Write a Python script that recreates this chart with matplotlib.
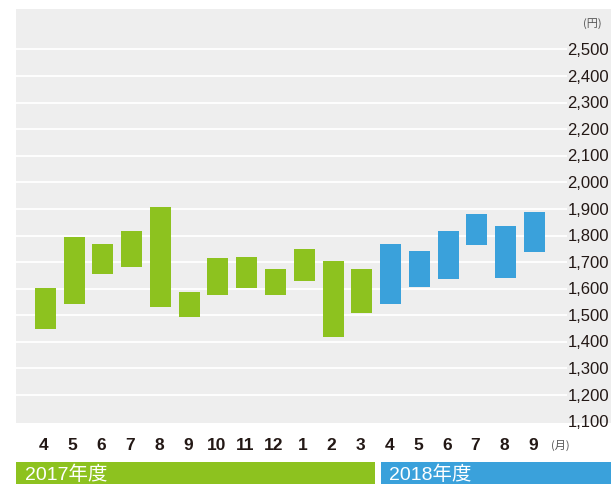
import matplotlib
matplotlib.use("Agg")
import matplotlib.pyplot as plt
import matplotlib.transforms as mtransforms
from matplotlib.patches import Rectangle

# monthly share price range (yen), high / low
months = ["4", "5", "6", "7", "8", "9", "10", "11", "12", "1", "2", "3",
          "4", "5", "6", "7", "8", "9"]
highs = [1601, 1794, 1770, 1817, 1906, 1586, 1714, 1718, 1676, 1748, 1706, 1674,
         1768, 1743, 1817, 1881, 1836, 1887]
lows = [1447, 1541, 1657, 1680, 1530, 1492, 1575, 1601, 1578, 1628, 1420, 1510,
        1541, 1605, 1636, 1763, 1640, 1738]
fiscal_year = ["2017年度"] * 12 + ["2018年度"] * 6
yticks = [1100, 1200, 1300, 1400, 1500, 1600, 1700, 1800, 1900, 2000,
          2100, 2200, 2300, 2400, 2500]

GREEN = "#8dc21f"
BLUE = "#3aa1db"
GRAY = "#eeeeee"
INK = "#231815"

W, H = 611, 484
fig = plt.figure(figsize=(W / 100, H / 100), dpi=100)
ax = fig.add_axes([16 / W, (H - 423) / H, (W - 16) / W, (423 - 9) / H])
ax.set_facecolor(GRAY)
for s in ax.spines.values():
    s.set_visible(False)

x = list(range(len(months)))
colors = [GREEN if fy == "2017年度" else BLUE for fy in fiscal_year]
heights = [h - l for h, l in zip(highs, lows)]

ax.set_xlim(-1.018, 19.66)
ax.set_ylim(1095, 2652)

# white gridlines, stopping short of the labels on the right
ax.hlines([t for t in yticks if t > 1100], 0, (567 - 16) / (W - 16),
          transform=ax.get_yaxis_transform(), colors="white", lw=1.3, zorder=1)
ax.bar(x, heights, bottom=lows, width=0.73, color=colors, zorder=2)

ax.set_xticks([])
ax.set_yticks([])

num_font = ["Liberation Sans", "DejaVu Sans"]
cjk_font = ["Liberation Sans", "Noto Sans CJK JP", "DejaVu Sans"]

# y labels drawn inside the plot on the right
ytr = mtransforms.blended_transform_factory(fig.transFigure, ax.transData)
for t in yticks:
    fig.text(609 / W, t - 4, f"{t:,}", transform=ytr, ha="right", va="center",
             fontsize=12, family=num_font, color=INK)
fig.text(592 / W, 1 - 24 / H, "(円)", ha="center", va="center",
         fontsize=8, family=["Noto Sans CJK JP"], color="#555555")

# month labels
xtr = mtransforms.blended_transform_factory(ax.transData, fig.transFigure)
for i, m in enumerate(months):
    fig.text(i - 0.05, 1 - 445.7 / H, m, transform=xtr, ha="center", va="center",
             fontsize=12.5, fontweight="bold", family=num_font, color=INK)
fig.text(560 / W, 1 - 445 / H, "(月)", ha="center", va="center",
         fontsize=8, family=["Noto Sans CJK JP"], color="#555555")

# fiscal year bands
fig.add_artist(Rectangle((16 / W, 0), (375 - 16) / W, (H - 461.7) / H,
                         transform=fig.transFigure, color=GREEN, lw=0))
fig.add_artist(Rectangle((380.7 / W, 0), (W - 380.7) / W, (H - 461.7) / H,
                         transform=fig.transFigure, color=BLUE, lw=0))
fig.text(25 / W, 0.5 / H, "2017年度", ha="left", va="bottom",
         fontsize=14, family=cjk_font, color="white")
fig.text(389 / W, 0.5 / H, "2018年度", ha="left", va="bottom",
         fontsize=14, family=cjk_font, color="white")

fig.savefig("out.png", dpi=100)
